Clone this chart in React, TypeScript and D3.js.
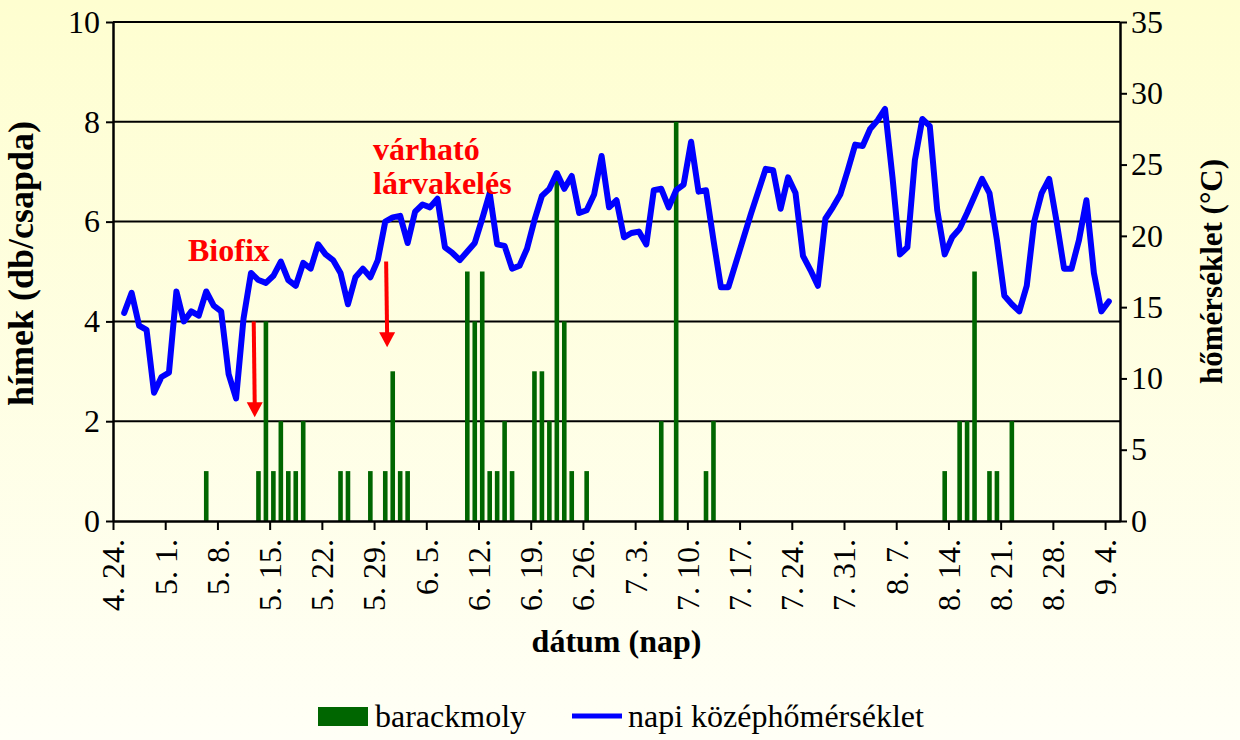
import { useEffect, useRef } from 'react';
import * as d3 from 'd3';

// daily mean temperature, from 4.25. to 9.4. (°C)
const tempStart = [4, 25];
const temperature = [
  14.6, 16.0, 13.7, 13.4, 9.0, 10.1, 10.4, 16.1, 14.0, 14.7, 14.4, 16.1, 15.1, 14.7, 10.3, 8.6,
  14.2, 17.4, 16.9, 16.7, 17.2, 18.2, 16.9, 16.5, 18.1, 17.7, 19.4, 18.7, 18.3, 17.4, 15.2, 17.1,
  17.7, 17.1, 18.3, 21.0, 21.3, 21.4, 19.5, 21.7, 22.2, 22.0, 22.6, 19.2, 18.8, 18.3, 18.9, 19.5,
  21.2, 23.0, 19.4, 19.3, 17.7, 17.9, 19.1, 21.1, 22.8, 23.3, 24.4, 23.3, 24.2, 21.6, 21.8, 22.9,
  25.6, 22.0, 22.5, 19.9, 20.2, 20.3, 19.4, 23.2, 23.3, 22.0, 23.2, 23.6, 26.6, 23.1, 23.2, 19.7,
  16.4, 16.4, 18.1, 19.8, 21.5, 23.1, 24.7, 24.6, 21.9, 24.1, 23.0, 18.6, 17.6, 16.5, 21.2, 22.0,
  22.9, 24.6, 26.4, 26.3, 27.5, 28.1, 28.9, 24.1, 18.7, 19.2, 25.3, 28.2, 27.7, 21.8, 18.7, 19.9,
  20.5, 21.6, 22.8, 24.0, 23.0, 19.7, 15.8, 15.2, 14.7, 16.5, 21.0, 23.0, 24.0, 21.0, 17.7, 17.7,
  19.7, 22.5, 17.4, 14.7, 15.4,
];

// barackmoly catches (db/csapda)
const catchDates = [
  '5.6', '5.13', '5.14', '5.15', '5.16', '5.17', '5.18', '5.19', '5.24', '5.25', '5.28', '5.30',
  '5.31', '6.1', '6.2', '6.10', '6.11', '6.12', '6.13', '6.14', '6.15', '6.16', '6.19', '6.20',
  '6.21', '6.22', '6.23', '6.24', '6.26', '7.6', '7.8', '7.12', '7.13', '8.13', '8.15', '8.16',
  '8.17', '8.19', '8.20', '8.22',
];
const catchCounts = [
  1, 1, 4, 1, 2, 1, 1, 2, 1, 1, 1, 1,
  3, 1, 1, 5, 4, 5, 1, 1, 2, 1, 3, 3,
  2, 7, 4, 1, 1, 2, 8, 1, 2, 1, 2, 2,
  5, 1, 1, 2,
];

const xTickLabels = [
  '4. 24.', '5. 1.', '5. 8.', '5. 15.', '5. 22.', '5. 29.', '6. 5.', '6. 12.', '6. 19.', '6. 26.',
  '7. 3.', '7. 10.', '7. 17.', '7. 24.', '7. 31.', '8. 7.', '8. 14.', '8. 21.', '8. 28.', '9. 4.',
];
const leftTicks = [0, 2, 4, 6, 8, 10];
const rightTicks = [0, 5, 10, 15, 20, 25, 30, 35];

const toDate = (s: string) => {
  const [m, d] = s.split('.').map(v => parseInt(v.trim(), 10));
  return new Date(1900, m - 1, d);
};

const FONT = '"Liberation Serif", "Times New Roman", serif';
const BLUE = '#0000ff';
const GREEN = '#006600';
const RED = '#ff0000';

export default function App() {
  const svgRef = useRef<SVGSVGElement>(null);
  const width = 1240;
  const height = 740;

  useEffect(() => {
    if (!svgRef.current) return;
    const svg = d3.select(svgRef.current);
    svg.selectAll('*').remove();

    const margin = { top: 22, right: 120, bottom: 219, left: 113 };
    const x0 = margin.left;
    const x1 = width - margin.right;
    const y0 = height - margin.bottom;
    const y1 = margin.top;

    const start = toDate(xTickLabels[0]);
    const end = d3.timeDay.offset(start, 135);
    const x = d3.scaleTime().domain([start, end]).range([x0, x1]);
    const mid = (d: Date) => x(d3.timeHour.offset(d, 12));
    const yL = d3.scaleLinear().domain([0, 10]).range([y0, y1]);
    const yR = d3.scaleLinear().domain([0, 35]).range([y0, y1]);

    const defs = svg.append('defs');
    const grad = defs.append('linearGradient').attr('id', 'bg').attr('x1', 0).attr('y1', 0).attr('x2', 0).attr('y2', 1);
    grad.append('stop').attr('offset', '0%').attr('stop-color', '#fefed0');
    grad.append('stop').attr('offset', '100%').attr('stop-color', '#fffff6');
    svg.append('rect').attr('width', width).attr('height', height).attr('fill', 'url(#bg)');

    // gridlines
    svg.append('g')
      .selectAll('line')
      .data(leftTicks.filter(t => t > 0))
      .enter().append('line')
      .attr('x1', x0).attr('x2', x1)
      .attr('y1', d => yL(d)).attr('y2', d => yL(d))
      .attr('stroke', '#000').attr('stroke-width', 2);

    // bars
    const barData = catchDates.map((d, i) => ({ date: toDate(d), count: catchCounts[i] }));
    svg.append('g')
      .selectAll('rect')
      .data(barData)
      .enter().append('rect')
      .attr('x', d => mid(d.date) - 2.3)
      .attr('width', 4.6)
      .attr('y', d => yL(d.count))
      .attr('height', d => y0 - yL(d.count))
      .attr('fill', GREEN);

    // temperature line
    const tFirst = new Date(1900, tempStart[0] - 1, tempStart[1]);
    const tempData = temperature.map((t, i) => ({ date: d3.timeDay.offset(tFirst, i), t }));
    const line = d3.line<{ date: Date; t: number }>()
      .x(d => mid(d.date))
      .y(d => yR(d.t));
    svg.append('path')
      .datum(tempData)
      .attr('d', line)
      .attr('fill', 'none')
      .attr('stroke', BLUE)
      .attr('stroke-width', 6)
      .attr('stroke-linejoin', 'round')
      .attr('stroke-linecap', 'round');

    const styleAxis = (g: d3.Selection<SVGGElement, unknown, null, undefined>) => {
      g.select('.domain').attr('stroke', '#000').attr('stroke-width', 2.5);
      g.selectAll('.tick line').attr('stroke', '#000').attr('stroke-width', 2);
      g.selectAll('.tick text').attr('font-family', FONT).attr('font-size', 32).attr('fill', '#000');
    };

    // bottom axis
    const tickDates = xTickLabels.map(toDate);
    const gx = svg.append('g')
      .attr('transform', `translate(0,${y0})`)
      .call(d3.axisBottom(x).tickValues(tickDates).tickSize(9).tickSizeOuter(0)
        .tickFormat((_, i) => xTickLabels[i]));
    styleAxis(gx);
    gx.selectAll('.tick text')
      .attr('transform', 'rotate(-90)')
      .attr('text-anchor', 'end')
      .attr('x', -18)
      .attr('y', 0)
      .attr('dy', '0.34em');

    // left axis
    const gl = svg.append('g')
      .attr('transform', `translate(${x0},0)`)
      .call(d3.axisLeft(yL).tickValues(leftTicks).tickSize(7).tickSizeOuter(0).tickPadding(6));
    styleAxis(gl);

    // right axis
    const gr = svg.append('g')
      .attr('transform', `translate(${x1},0)`)
      .call(d3.axisRight(yR).tickValues(rightTicks).tickSize(7).tickSizeOuter(0).tickPadding(4));
    styleAxis(gr);

    // top border
    svg.append('line')
      .attr('x1', x0).attr('x2', x1).attr('y1', y1).attr('y2', y1)
      .attr('stroke', '#000').attr('stroke-width', 2);

    // axis titles
    svg.append('text')
      .attr('transform', `translate(33,${(y0 + y1) / 2 - 8}) rotate(-90)`)
      .attr('text-anchor', 'middle')
      .attr('font-family', FONT).attr('font-weight', 'bold').attr('font-size', 36)
      .text('hímek (db/csapda)');
    svg.append('text')
      .attr('transform', `translate(1222,${(y0 + y1) / 2}) rotate(-90)`)
      .attr('text-anchor', 'middle')
      .attr('font-family', FONT).attr('font-weight', 'bold').attr('font-size', 31)
      .text('hőmérséklet (°C)');
    svg.append('text')
      .attr('x', (x0 + x1) / 2).attr('y', 652)
      .attr('text-anchor', 'middle')
      .attr('font-family', FONT).attr('font-weight', 'bold').attr('font-size', 32)
      .text('dátum (nap)');

    // annotations
    const arrow = (date: Date, from: number, to: number) => {
      const ax = x(date);
      const tip = yL(to);
      svg.append('line')
        .attr('x1', ax - 1).attr('x2', ax)
        .attr('y1', yL(from)).attr('y2', tip - 12)
        .attr('stroke', RED).attr('stroke-width', 4);
      svg.append('path')
        .attr('d', `M${ax - 8},${tip - 15} L${ax + 8},${tip - 15} L${ax},${tip} Z`)
        .attr('fill', RED);
    };
    arrow(toDate('5.13'), 4.0, 2.08);
    arrow(d3.timeHour.offset(toDate('5.30'), 18), 5.2, 3.48);

    const note = (tx: number, ty: number, s: string) =>
      svg.append('text')
        .attr('x', tx).attr('y', ty)
        .attr('font-family', FONT).attr('font-weight', 'bold').attr('font-size', 32)
        .attr('fill', RED)
        .text(s);
    note(188, 261, 'Biofix');
    note(373, 160, 'várható');
    note(373, 194, 'lárvakelés');

    // legend
    const lg = svg.append('g');
    lg.append('rect').attr('x', 318).attr('y', 707).attr('width', 50).attr('height', 19).attr('fill', GREEN);
    lg.append('text').attr('x', 375).attr('y', 727)
      .attr('font-family', FONT).attr('font-size', 32).text('barackmoly');
    lg.append('line').attr('x1', 572).attr('x2', 622).attr('y1', 716).attr('y2', 716)
      .attr('stroke', BLUE).attr('stroke-width', 5);
    lg.append('text').attr('x', 628).attr('y', 727)
      .attr('font-family', FONT).attr('font-size', 32).text('napi középhőmérséklet');
  }, []);

  return (
    <div style={{ position: 'absolute', left: 0, top: 0 }}>
      <svg ref={svgRef} width={width} height={height} style={{ display: 'block' }} />
    </div>
  );
}
